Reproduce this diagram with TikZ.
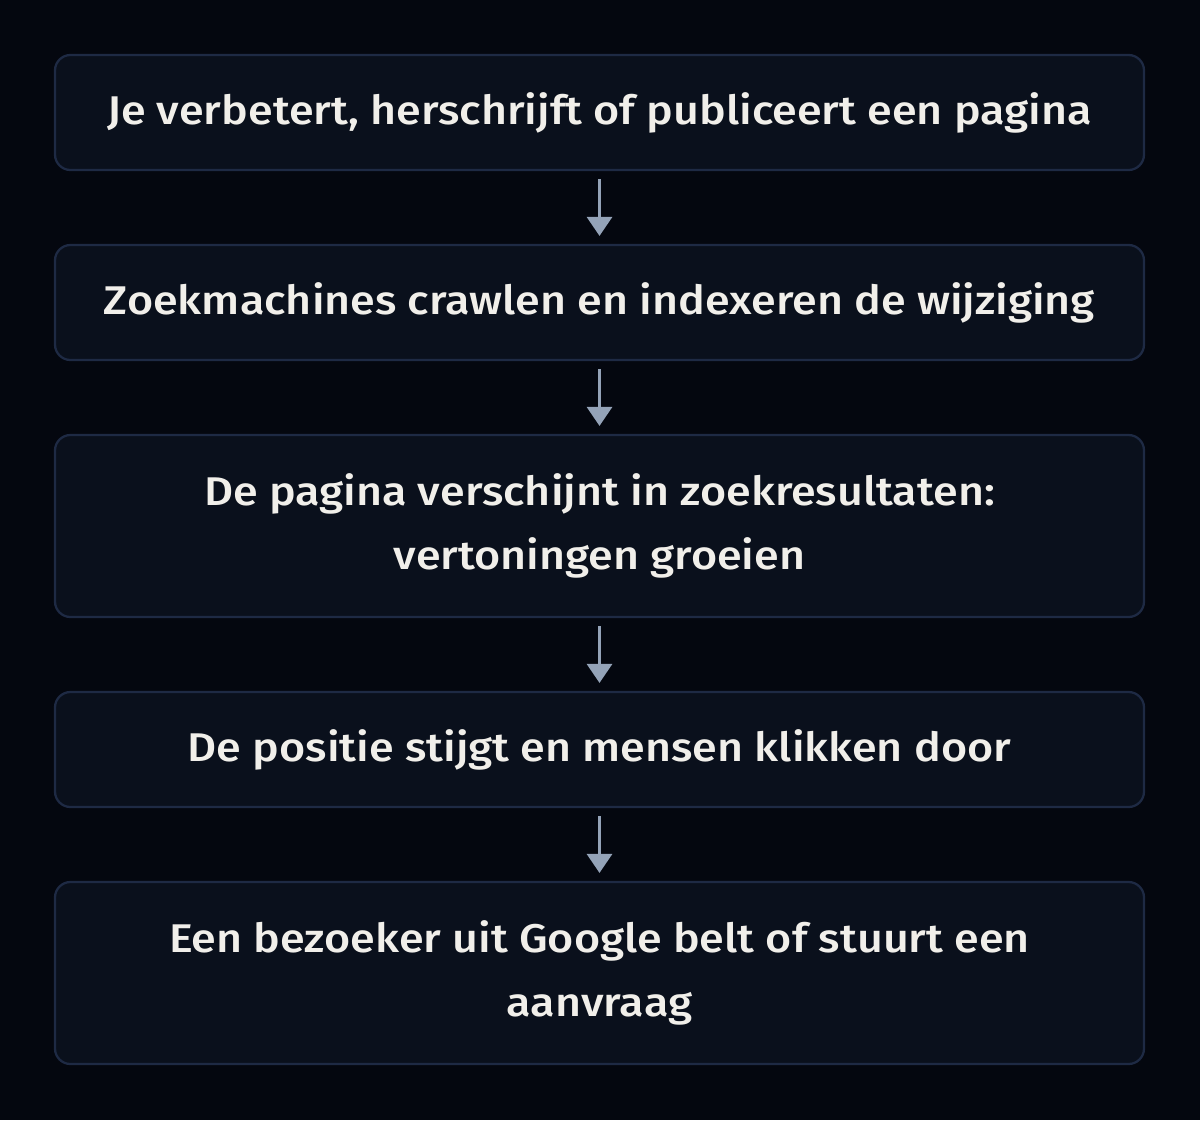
\documentclass[tikz,border=0pt]{standalone}
\usepackage{fontspec}
\setmainfont{Fira Sans Medium}[FakeStretch=1.12]
\usetikzlibrary{arrows.meta,positioning,calc}
\definecolor{bgdark}{HTML}{04070F}
\definecolor{boxfill}{HTML}{0A101C}
\definecolor{boxline}{HTML}{1E2A44}
\definecolor{arrowgrey}{HTML}{94A3B8}
\definecolor{textwhite}{HTML}{F1EFEA}
\tikzset{
	stepbox/.style={draw=boxline, fill=boxfill, line width=1.6pt, rounded corners=11pt, minimum width=1089*0.025cm, align=center, text=textwhite, font=\fontsize{28.5}{46}\selectfont},
	flowarrow/.style={draw=arrowgrey, line width=1.5pt, -{Triangle[width=18pt,length=13.5pt]}, shorten <=8*0.025cm, shorten >=8*0.025cm}
}

\begin{document}
\begin{tikzpicture}[x=0.025cm,y=-0.025cm]
	\fill[bgdark] (0,0) rectangle (1200,1120);
	\useasboundingbox (0,0) rectangle (1200,1120);
	\node[stepbox, minimum height=115*0.025cm] (publish) at (599.5,112.5) {Je verbetert, herschrijft of publiceert een pagina};
	\node[stepbox, minimum height=115*0.025cm] (crawl) at (599.5,302.5) {Zoekmachines crawlen en indexeren de wijziging};
	\node[stepbox, minimum height=182*0.025cm] (results) at (599.5,526) {De pagina verschijnt in zoekresultaten:\\vertoningen groeien};
	\node[stepbox, minimum height=115*0.025cm] (rank) at (599.5,749.5) {De positie stijgt en mensen klikken door};
	\node[stepbox, minimum height=182*0.025cm] (lead) at (599.5,973) {Een bezoeker uit Google belt of stuurt een\\aanvraag};
	\foreach \a/\b in {publish/crawl,crawl/results,results/rank,rank/lead}
		\draw[flowarrow] (\a) -- (\b);
\end{tikzpicture}
\end{document}
